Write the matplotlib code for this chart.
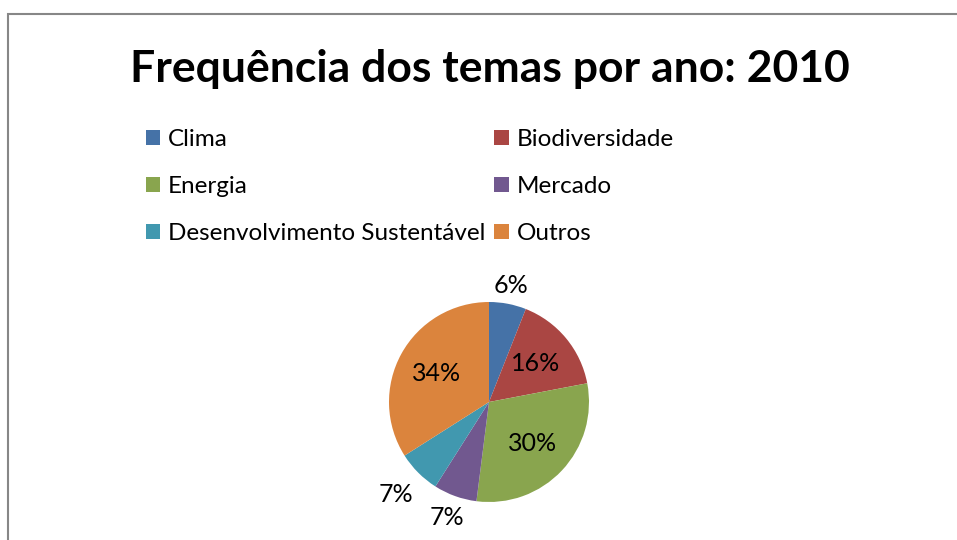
import numpy as np
import matplotlib
matplotlib.use("Agg")
import matplotlib.pyplot as plt
from matplotlib.patches import Patch, Rectangle

plt.rcParams['font.family'] = ['Lato', 'DejaVu Sans']

# Data
temas = ["Clima", "Biodiversidade", "Energia", "Mercado",
         "Desenvolvimento Sustentável", "Outros"]
percentuais = [6, 16, 30, 7, 7, 34]
cores = ["#4572A7", "#AA4643", "#89A54E", "#71588F", "#4198AF", "#DB843D"]

# label placement (fraction of radius)
label_dist = [1.19, 0.6, 0.6, 1.23, 1.31, 0.6]

W, H = 957, 540
fig = plt.figure(figsize=(W / 100, H / 100), dpi=100)
fig.patch.set_facecolor("white")

# chart area border (only left/top visible)
fig.add_artist(Rectangle((8 / W, -0.5), 2, 1.5 - 14 / H, transform=fig.transFigure,
                         fill=False, edgecolor="#878787", linewidth=1.5))

fig.text(490 / W, 1 - 69 / H, "Frequência dos temas por ano: 2010",
         ha="center", va="center", fontsize=32, fontweight="bold")

# pie axes: center (489, 402), radius 100 px
r = 100
cx, cy = 489, 402
ax = fig.add_axes([(cx - r) / W, (H - cy - r) / H, 2 * r / W, 2 * r / H])
wedges, _ = ax.pie(percentuais, colors=cores, startangle=90, counterclock=False,
                   radius=1, wedgeprops=dict(linewidth=0))
ax.set_xlim(-1, 1)
ax.set_ylim(-1, 1)
ax.set_aspect("equal")
ax.axis("off")

for w, p, d in zip(wedges, percentuais, label_dist):
    ang = np.deg2rad((w.theta1 + w.theta2) / 2)
    ax.text(d * np.cos(ang), d * np.sin(ang), f"{p}%", ha="center", va="center",
            fontsize=18, clip_on=False)

# legend, row-wise order in two columns
ordem = [0, 2, 4, 1, 3, 5]
handles = [Patch(facecolor=cores[i], edgecolor="none", label=temas[i]) for i in ordem]
fig.legend(handles=handles, ncol=2, loc="upper left",
           bbox_to_anchor=(146 / W, 1 - 129 / H), frameon=False,
           fontsize=17.5, handlelength=0.58, handleheight=0.58,
           handletextpad=0.33, columnspacing=0.37, labelspacing=1.08,
           borderpad=0, borderaxespad=0)

fig.savefig("out.png", dpi=100, facecolor="white")
